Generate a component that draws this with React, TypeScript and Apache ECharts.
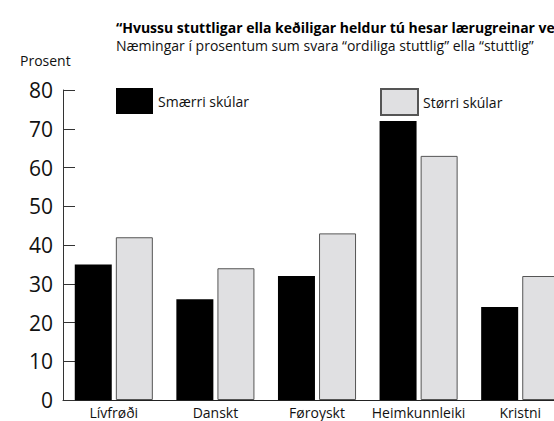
import React, { useEffect, useRef } from "react";
import * as echarts from "echarts";

const categories = ["Lívfrøði", "Danskt", "Føroyskt", "Heimkunnleiki", "Kristni"];
const smaller = [35, 26, 32, 72, 24];
const larger = [42, 34, 43, 63, 32];
const seriesNames = ["Smærri skúlar", "Størri skúlar"];
const titleText = "“Hvussu stuttligar ella keðiligar heldur tú hesar lærugreinar verið?”";
const subtitleText = "Næmingar í prosentum sum svara “ordiliga stuttlig” ella “stuttlig”";
const yAxisTitle = "Prosent";

const FONT = "Open Sans";

export default function App() {
  const ref = useRef<HTMLDivElement>(null);
  useEffect(() => {
    if (!ref.current) return;
    const chart = echarts.init(ref.current, null, { renderer: "svg" });
    chart.setOption({
      animation: false,
      backgroundColor: "#ffffff",
      textStyle: { fontFamily: FONT },
      graphic: [
        {
          type: "text",
          left: 116,
          top: 20,
          style: { text: titleText, font: `bold 14px '${FONT}'`, fill: "#000" },
        },
        {
          type: "text",
          left: 116,
          top: 38,
          style: { text: subtitleText, font: `14px '${FONT}'`, fill: "#111" },
        },
        {
          type: "text",
          left: 20,
          top: 53,
          style: { text: yAxisTitle, font: `14px '${FONT}'`, fill: "#111" },
        },
      ],
      legend: [
        {
          data: [seriesNames[0]],
          left: 116,
          top: 88,
          icon: "rect",
          itemWidth: 37,
          itemHeight: 26,
          textStyle: { fontFamily: FONT, fontSize: 14, color: "#111" },
          padding: 0,
        },
        {
          data: [seriesNames[1]],
          left: 380,
          top: 88,
          icon: "rect",
          itemWidth: 37,
          itemHeight: 26,
          textStyle: { fontFamily: FONT, fontSize: 14, color: "#111" },
          padding: 0,
        },
      ],
      grid: { left: 63, top: 90, bottom: 21, right: 29, containLabel: false },
      xAxis: {
        type: "category",
        data: categories,
        axisLine: { lineStyle: { color: "#222", width: 1 } },
        axisTick: { inside: true, length: 7, lineStyle: { color: "#444" } },
        axisLabel: { fontFamily: FONT, fontSize: 14, color: "#111", margin: 5, interval: 0 },
      },
      yAxis: {
        type: "value",
        min: 0,
        max: 80,
        interval: 10,
        splitLine: { show: false },
        axisLine: { show: true, lineStyle: { color: "#333", width: 1 } },
        axisTick: { show: true, inside: true, length: 12, lineStyle: { color: "#333" } },
        axisLabel: { fontFamily: FONT, fontSize: 21, color: "#111", margin: 10 },
      },
      series: [
        {
          name: seriesNames[0],
          type: "bar",
          data: smaller,
          barWidth: 37,
          barGap: "11%",
          itemStyle: { color: "#000000" },
        },
        {
          name: seriesNames[1],
          type: "bar",
          data: larger,
          barWidth: 37,
          itemStyle: { color: "#e0e0e2", borderColor: "#555", borderWidth: 1 },
        },
      ],
    });
    return () => chart.dispose();
  }, []);
  return (
    <div style={{ position: "fixed", left: 0, top: 0, width: 554, height: 421, overflow: "hidden" }}>
      <div ref={ref} style={{ width: 600, height: 421 }} />
    </div>
  );
}
